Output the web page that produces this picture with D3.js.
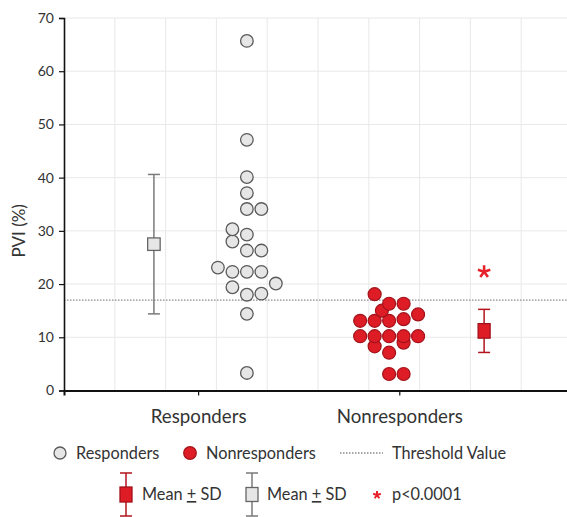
<!DOCTYPE html>
<html>
<head>
<meta charset="utf-8">
<script src="https://cdn.jsdelivr.net/npm/d3@7"></script>
<style>
  body { margin: 0; background: #fff; }
  text { font-family: Lato, "Open Sans", sans-serif; fill: #333; }
</style>
</head>
<body>
<script>
// data
var categories = ["Responders", "Nonresponders"];
var catPos = [2.64, 6.6];          // x position of category ticks
var swarmPos = [3.6, 6.4];         // x centre of each dot swarm
var meanPos = [1.77, 8.27];        // x position of mean +- SD markers

var respValues = [65.7, 47.1, 40.1, 37.1, 34.1, 34.1, 30.3, 29.3, 28.0, 26.3, 26.3,
                  23.1, 22.3, 22.3, 22.3, 20.1, 19.4, 18.0, 18.2, 14.4, 3.3];
var respCols   = [0, 0, 0, 0, 0, 1, -1, 0, -1, 0, 1,
                  -2, -1, 0, 1, 2, -1, 0, 1, 0, 0];

var nonValues = [18.1, 16.3, 16.3, 15.0, 14.3, 13.1, 13.1, 13.1, 13.4,
                 10.2, 10.2, 10.2, 10.2, 10.2, 8.3, 9.0, 7.1, 3.1, 3.1];
var nonCols   = [-1, 0, 1, -0.5, 2, -2, -1, 0, 1,
                 -2, -1, 0, 1, 2, -1, 1, 0, 0, 1];

var means = [27.5, 11.2];
var sds = [13.1, 4.05];
var threshold = 17;
var starValue = 22.3;
var yTicks = [0, 10, 20, 30, 40, 50, 60, 70];

var margin = { top: 18, left: 64 };
var W = 567, H = 517;
var plotW = 508, plotH = 372.5;
var colStep = 0.285;

var svg = d3.select("body").append("svg")
    .attr("width", W)
    .attr("height", H);

var x = d3.scaleLinear().domain([0, 10]).range([margin.left, margin.left + plotW]);
var y = d3.scaleLinear().domain([0, 70]).range([margin.top + plotH, margin.top]);

// grid
svg.append("g").selectAll("line")
    .data(d3.range(1, 10))
    .enter().append("line")
    .attr("x1", function(d) { return x(d); })
    .attr("x2", function(d) { return x(d); })
    .attr("y1", y(70)).attr("y2", y(0))
    .attr("stroke", "#e8e8e8").attr("stroke-width", 1);

svg.append("g").selectAll("line")
    .data(yTicks.slice(1))
    .enter().append("line")
    .attr("x1", x(0)).attr("x2", x(10))
    .attr("y1", function(d) { return y(d); })
    .attr("y2", function(d) { return y(d); })
    .attr("stroke", "#e8e8e8").attr("stroke-width", 1);

// threshold
svg.append("line")
    .attr("x1", x(0)).attr("x2", x(10))
    .attr("y1", y(threshold)).attr("y2", y(threshold))
    .attr("stroke", "#8a8a8a").attr("stroke-width", 1.3)
    .attr("stroke-dasharray", "1.5,1.5");

// axes
var yAxis = d3.axisLeft(y).tickValues(yTicks).tickSize(5).tickPadding(5);
var gy = svg.append("g")
    .attr("transform", "translate(" + x(0) + ",0)")
    .call(yAxis);
gy.select(".domain").attr("stroke", "#111").attr("stroke-width", 1.6);
gy.selectAll(".tick line").attr("stroke", "#111").attr("stroke-width", 1.2);
gy.selectAll(".tick text").style("font-size", "14px").style("font-family", "Lato, sans-serif").attr("fill", "#333");

var xAxis = d3.axisBottom(x).tickValues(catPos).tickSize(5)
    .tickFormat(function(d, i) { return categories[i]; })
    .tickPadding(14);
var gx = svg.append("g")
    .attr("transform", "translate(0," + y(0) + ")")
    .call(xAxis);
gx.select(".domain").attr("stroke", "#111").attr("stroke-width", 2);
gx.selectAll(".tick line").attr("stroke", "#111").attr("stroke-width", 1.2);
gx.selectAll(".tick text").style("font-size", "18.7px").style("font-family", "Lato, sans-serif").attr("fill", "#333");

svg.append("text")
    .attr("transform", "translate(25," + y(30) + ") rotate(-90)")
    .attr("text-anchor", "middle")
    .style("font-size", "17px")
    .text("PVI (%)");

// dots
var respData = respValues.map(function(v, i) { return { v: v, c: respCols[i] }; });
var nonData = nonValues.map(function(v, i) { return { v: v, c: nonCols[i] }; });
respData.sort(function(a, b) { return a.v - b.v; });
nonData.sort(function(a, b) { return a.v - b.v; });

svg.append("g").selectAll("circle")
    .data(respData)
    .enter().append("circle")
    .attr("cx", function(d) { return x(swarmPos[0] + d.c * colStep); })
    .attr("cy", function(d) { return y(d.v); })
    .attr("r", 6.3)
    .attr("fill", "#e6e6e6")
    .attr("stroke", "#5a5a5a")
    .attr("stroke-width", 1.3);

svg.append("g").selectAll("circle")
    .data(nonData)
    .enter().append("circle")
    .attr("cx", function(d) { return x(swarmPos[1] + d.c * colStep); })
    .attr("cy", function(d) { return y(d.v); })
    .attr("r", 6.5)
    .attr("fill", "#dd1c26")
    .attr("stroke", "#a3121a")
    .attr("stroke-width", 1.2);

// mean +- SD markers
function meanMarker(g, cx, yTop, yBot, yMid, w, h, fill, stroke, whisk) {
  g.append("line").attr("x1", cx).attr("x2", cx).attr("y1", yTop).attr("y2", yBot)
    .attr("stroke", whisk).attr("stroke-width", 1.5);
  g.append("line").attr("x1", cx - 6).attr("x2", cx + 6).attr("y1", yTop).attr("y2", yTop)
    .attr("stroke", whisk).attr("stroke-width", 1.5);
  g.append("line").attr("x1", cx - 6).attr("x2", cx + 6).attr("y1", yBot).attr("y2", yBot)
    .attr("stroke", whisk).attr("stroke-width", 1.5);
  g.append("rect").attr("x", cx - w / 2).attr("y", yMid - h / 2)
    .attr("width", w).attr("height", h)
    .attr("fill", fill).attr("stroke", stroke).attr("stroke-width", 1.3);
}

var mg = svg.append("g");
meanMarker(mg, x(meanPos[0]), y(means[0] + sds[0]), y(means[0] - sds[0]), y(means[0]),
           12.5, 12.5, "#e6e6e6", "#666", "#7a7a7a");
meanMarker(mg, x(meanPos[1]), y(means[1] + sds[1]), y(means[1] - sds[1]), y(means[1]),
           12, 14.5, "#dd1c26", "#a3121a", "#b3141d");

// five-armed asterisk
var asterisk5 = {
  draw: function(ctx, size) {
    var r = Math.sqrt(size) / 2;
    for (var k = 0; k < 5; k++) {
      var a = -Math.PI / 2 + k * 2 * Math.PI / 5;
      ctx.moveTo(0, 0);
      ctx.lineTo(r * Math.cos(a), r * Math.sin(a));
    }
  }
};
var star = d3.symbol().type(asterisk5);
svg.append("path")
    .attr("d", star.size(170)())
    .attr("transform", "translate(" + x(meanPos[1]) + "," + y(starValue) + ")")
    .attr("fill", "none")
    .attr("stroke", "#e8222b")
    .attr("stroke-width", 2.6);

// legend row 1
var lg = svg.append("g");
lg.append("circle").attr("cx", 60).attr("cy", 453).attr("r", 6)
  .attr("fill", "#e6e6e6").attr("stroke", "#5a5a5a").attr("stroke-width", 1.3);
lg.append("text").attr("x", 76).attr("y", 459).style("font-size", "16.3px").text("Responders");
lg.append("circle").attr("cx", 190).attr("cy", 453).attr("r", 6.3)
  .attr("fill", "#dd1c26").attr("stroke", "#a3121a").attr("stroke-width", 1.2);
lg.append("text").attr("x", 206).attr("y", 459).style("font-size", "16.3px").text("Nonresponders");
lg.append("line").attr("x1", 340).attr("x2", 383).attr("y1", 453).attr("y2", 453)
  .attr("stroke", "#8a8a8a").attr("stroke-width", 1.3).attr("stroke-dasharray", "1.5,1.5");
lg.append("text").attr("x", 392).attr("y", 459).style("font-size", "16.3px").text("Threshold Value");

// legend row 2
meanMarker(lg, 126, 473, 516, 494.5, 12, 15, "#dd1c26", "#a3121a", "#b3141d");
meanMarker(lg, 252, 473, 516, 494.5, 12, 14, "#e6e6e6", "#666", "#7a7a7a");

function meanText(xp) {
  var t = lg.append("text").attr("x", xp).attr("y", 500).style("font-size", "16.3px");
  t.append("tspan").text("Mean ");
  t.append("tspan").style("text-decoration", "underline").text("+");
  t.append("tspan").text(" SD");
}
meanText(142);
meanText(267);

lg.append("path")
  .attr("d", star.size(64)())
  .attr("transform", "translate(377,495)")
  .attr("fill", "none")
  .attr("stroke", "#e8222b")
  .attr("stroke-width", 2);
lg.append("text").attr("x", 392).attr("y", 500).style("font-size", "16.3px").text("p<0.0001");
</script>
</body>
</html>
